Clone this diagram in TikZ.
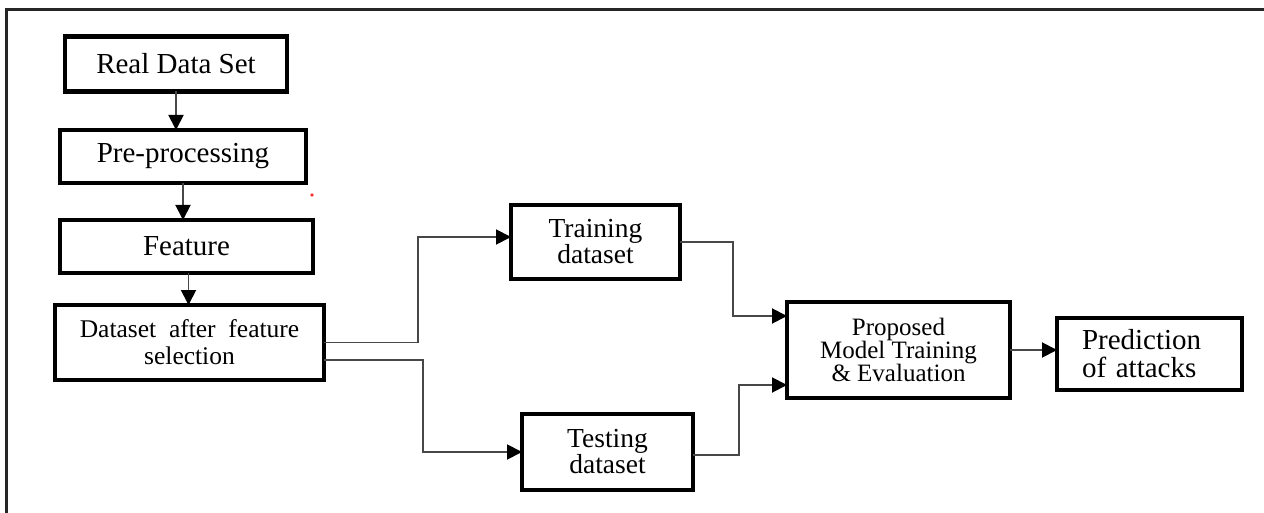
\documentclass[tikz,border=0pt]{standalone}
\usepackage{fontspec}
\setmainfont{Liberation Serif}
\usetikzlibrary{arrows.meta,calc}
\tikzset{
  box/.style={draw=black, line width=4.5pt, rectangle, inner sep=0pt, outer sep=0pt, align=center, text=black},
  conn/.style={draw=black!72, line width=1.9pt, -{Triangle[length=15pt,width=15pt,fill=black,color=black]}},
  fbig/.style={font=\fontsize{29}{28}\selectfont},
  fmid/.style={font=\fontsize{27.5}{26}\selectfont},
}
\begin{document}
\begin{tikzpicture}[x=1pt,y=-1pt]
\useasboundingbox (0,0) rectangle (1264,513);
\fill[white] (0,0) rectangle (1264,513);
% outer frame (top and left edges visible)
\draw[line width=3pt, black!85] (6.5,513) -- (6.5,9.5) -- (1264,9.5);
% stray red dot
\fill[red!80] (312,195) circle (1.8);

\node[box, fbig, minimum width=222, minimum height=55] (real) at (176,64) {Real Data Set};
\node[box, fbig, minimum width=246, minimum height=53] (pre) at (183,156.5) {Pre-processing};
\node[box, fbig, minimum width=253, minimum height=53] (feat) at (186.5,246.5) {Feature};
\node[box, font=\fontsize{25.5}{27}\selectfont, minimum width=269, minimum height=75] (ds) at (189.5,342.5) {Dataset\ \ after\ \ feature\\selection};
\node[box, fmid, minimum width=169, minimum height=74] (train) at (595.5,242) {Training\\dataset};
\node[box, fmid, minimum width=171, minimum height=76] (test) at (607.5,452) {Testing\\dataset};
\node[box, font=\fontsize{25}{23}\selectfont, minimum width=223, minimum height=96] (prop) at (898.5,350) {Proposed\\Model Training\\\& Evaluation};
\node[box, fbig, align=left, text width=135, minimum width=185, minimum height=72] (pred) at (1149.5,354) {Prediction\\of attacks};

\draw[conn] (real.south) -- (real.south |- pre.north);
\draw[conn] (pre.south) -- (pre.south |- feat.north);
\draw[conn] ([xshift=2pt]feat.south) -- ([xshift=2pt]feat.south |- ds.north);

\draw[conn] (ds.east) -- ++(94,0) |- ([yshift=5pt]train.west);
\draw[conn] ([yshift=-17.5pt]ds.east) -- ++(99,0) |- (test.west);
\draw[conn] (train.east) -- ++(53,0) |- ([yshift=34pt]prop.west);
\draw[conn] ([yshift=-3pt]test.east) -- ++(46,0) |- ([yshift=-35pt]prop.west);
\draw[conn] (prop.east) -- (prop.east -| pred.west);
\end{tikzpicture}
\end{document}
